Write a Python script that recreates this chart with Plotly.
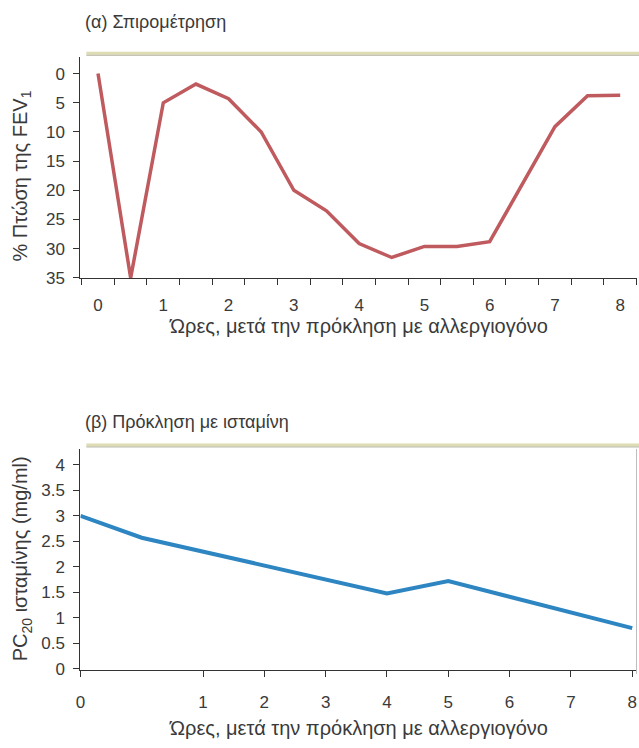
import numpy as np
import plotly.graph_objects as go

# (α) Spirometry: % fall in FEV1 over the hours after allergen challenge
fev_hours = [0, 0.5, 1, 1.5, 2, 2.5, 3, 3.5, 4, 4.5, 5, 5.5, 6, 6.5, 7, 7.5, 8]
fev_drop = [0, 35, 5, 1.8, 4.3, 10, 20, 23.5, 29.1, 31.5, 29.6, 29.6, 28.8, 19, 9.1, 3.8, 3.7]
fev_yticks = [0, 5, 10, 15, 20, 25, 30, 35]
hour_ticks = [0, 1, 2, 3, 4, 5, 6, 7, 8]

# (β) Histamine challenge: PC20 over the same period
hist_hours = [0, 0.5, 4, 5, 8]
hist_pc20 = [3.0, 2.57, 1.48, 1.72, 0.8]
hist_yticks = [0, 0.5, 1, 1.5, 2, 2.5, 3, 3.5, 4]

title_a = "(α) Σπιρομέτρηση"
title_b = "(β) Πρόκληση με ισταμίνη"
ytitle_a = "% Πτώση της FEV<sub>1</sub>"
ytitle_b = "PC<sub>20</sub> ισταμίνης (mg/ml)"
xtitle = "Ώρες, μετά την πρόκληση με αλλεργιογόνο"

W, H = 639, 748
FONT = "Liberation Sans, Arial, sans-serif"
TXT = "#3a3a3a"
AX = "#333333"


def px_x(x):
    return x / W


def px_y(y):
    return 1 - y / H


# the histamine panel's time axis gives the first hour double width
def hist_axis(h):
    return np.interp(h, [0, 1, 8], [0, 2, 9])


fig = go.Figure()
fig.add_trace(go.Scatter(
    x=fev_hours, y=fev_drop, mode="lines",
    line=dict(color="#bf5a5e", width=3.5),
    xaxis="x", yaxis="y", showlegend=False, hoverinfo="skip"))
fig.add_trace(go.Scatter(
    x=hist_axis(hist_hours), y=hist_pc20, mode="lines",
    line=dict(color="#2d86c2", width=4),
    xaxis="x2", yaxis="y2", showlegend=False, hoverinfo="skip"))

x_dom = [px_x(76), px_x(636.5)]
tickfont = dict(family=FONT, size=17, color=TXT)

fig.update_layout(
    width=W, height=H,
    margin=dict(l=0, r=0, t=0, b=0),
    paper_bgcolor="white", plot_bgcolor="white",
    font=dict(family=FONT, color=TXT),
    xaxis=dict(
        domain=x_dom, anchor="y", range=[-0.27, 8.25],
        tickmode="array", tickvals=hour_ticks,
        ticks="outside", ticklen=6, tickcolor="rgba(0,0,0,0)",
        ticklabelstandoff=6,
        minor=dict(tickmode="linear", tick0=-0.25, dtick=0.5,
                   ticks="outside", ticklen=6, tickcolor=AX, tickwidth=1),
        showline=True, linecolor=AX, linewidth=1,
        showgrid=False, zeroline=False, tickfont=tickfont),
    yaxis=dict(
        domain=[px_y(281.7), px_y(58)], anchor="x", range=[35, -2.8],
        tickmode="array", tickvals=fev_yticks,
        ticks="outside", ticklen=6, tickcolor=AX,
        ticklabelstandoff=5,
        showline=True, linecolor=AX, linewidth=1,
        showgrid=False, zeroline=False, tickfont=tickfont),
    xaxis2=dict(
        domain=x_dom, anchor="y2", range=[0, 9.07],
        tickmode="array", tickvals=hist_axis(hour_ticks),
        ticktext=[str(h) for h in hour_ticks],
        ticks="outside", ticklen=6, tickcolor=AX,
        ticklabelstandoff=11,
        showline=True, linecolor=AX, linewidth=1,
        showgrid=False, zeroline=False, tickfont=tickfont),
    yaxis2=dict(
        domain=[px_y(679), px_y(455)], anchor="x2", range=[-0.02, 4.31],
        tickmode="array", tickvals=hist_yticks,
        ticks="outside", ticklen=6, tickcolor=AX,
        ticklabelstandoff=5,
        showline=True, linecolor=AX, linewidth=1,
        showgrid=False, zeroline=False, tickfont=tickfont),
)

# khaki rules above each panel, and the right frame of the lower panel
shapes = []
for y in (55, 452):
    shapes.append(dict(type="line", xref="paper", yref="paper",
                       x0=px_x(82), x1=1, y0=px_y(y - 1), y1=px_y(y - 1),
                       line=dict(color="#dedcb2", width=3)))
    shapes.append(dict(type="line", xref="paper", yref="paper",
                       x0=px_x(82), x1=1, y0=px_y(y + 1), y1=px_y(y + 1),
                       line=dict(color="#b3b1a0", width=1)))
shapes.append(dict(type="line", xref="paper", yref="paper",
                   x0=px_x(636.5), x1=px_x(636.5), y0=px_y(683), y1=px_y(455),
                   line=dict(color="#bdbdbd", width=1)))
fig.update_layout(shapes=shapes)

labels = [
    (title_a, 79, 22, "left", "middle", 0, 18, 0),
    (title_b, 79, 428, "left", "middle", 0, 18, 0),
    (xtitle, 356, 330, "center", "middle", 0, 20, 0),
    (xtitle, 356, 728, "center", "middle", 0, 20, -10),
    (ytitle_a, 17, 178, "center", "middle", -90, 20, 0),
    (ytitle_b, 17, 566, "center", "middle", -90, 20, 0),
]
for text, x, y, xa, ya, angle, size, shift in labels:
    fig.add_annotation(
        text=text, xref="paper", yref="paper", x=px_x(x), y=px_y(y),
        xanchor=xa, yanchor=ya, yshift=shift, textangle=angle, showarrow=False,
        font=dict(family=FONT, size=size, color=TXT))

fig.write_html("out.html")
